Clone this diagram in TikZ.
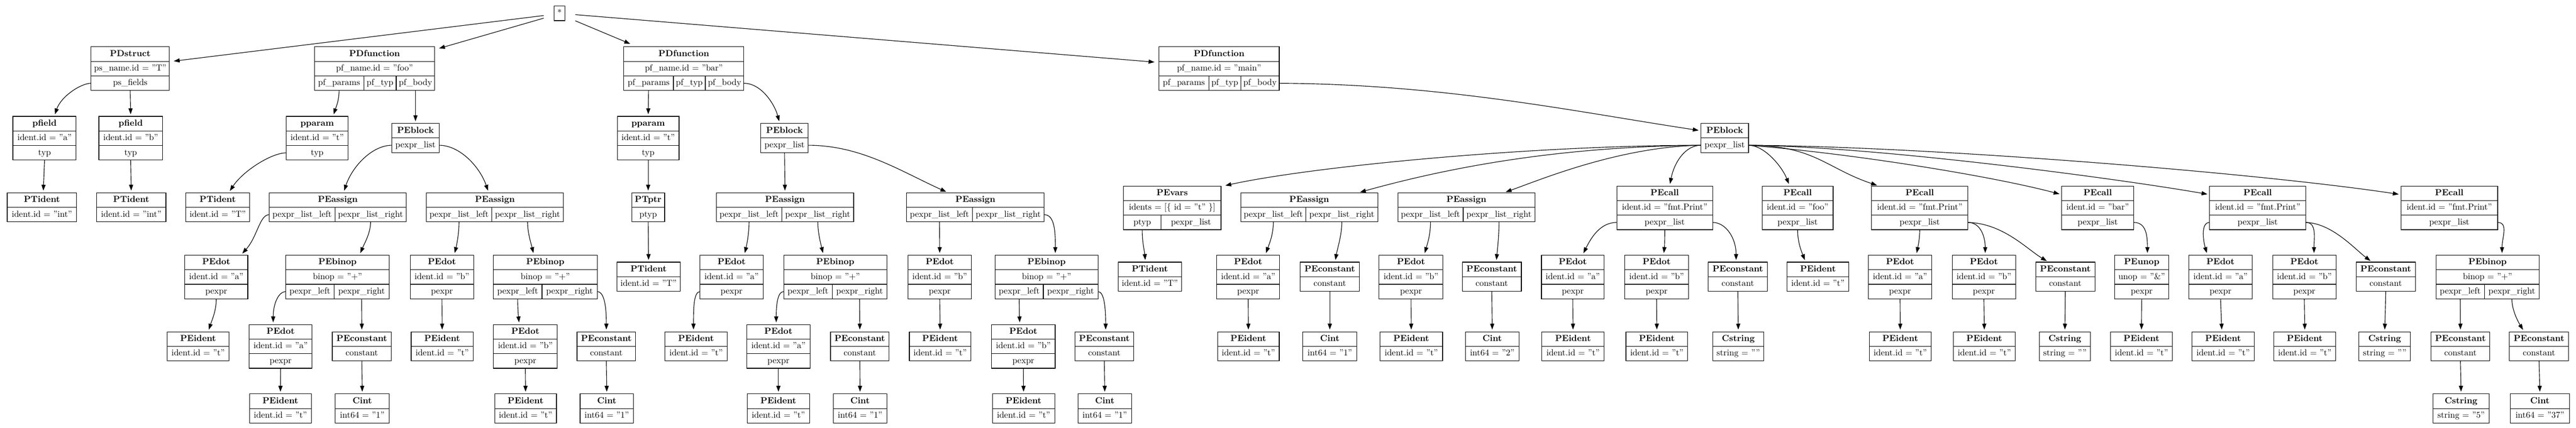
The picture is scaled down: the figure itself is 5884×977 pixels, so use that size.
\documentclass[tikz,border=0pt]{standalone}
\usetikzlibrary{arrows.meta,calc}
\tikzset{
 cell/.style={draw, line width=0.67pt, inner sep=0pt, outer sep=0pt, minimum height=16.65pt,
   text height=7pt, text depth=2pt, font=\fontsize{10}{12}\selectfont, anchor=center},
 conn/.style={line width=0.67pt, -{Triangle[length=6.7pt,width=4.7pt]}, shorten >=2.5pt},
}
% two-row record: name, x1, x2, ytop, title, row
\newcommand\RecII[6]{%
 \node[cell,minimum width={(#3-#2)*0.5pt}] (#1-t) at ({(#2+#3)/2},{#4+16.65}) {\textbf{#5}};
 \node[cell,minimum width={(#3-#2)*0.5pt}] (#1-a) at ({(#2+#3)/2},{#4+49.95}) {#6};}
% three-row record
\newcommand\RecIII[7]{%
 \RecII{#1}{#2}{#3}{#4}{#5}{#6}%
 \node[cell,minimum width={(#3-#2)*0.5pt}] (#1-b) at ({(#2+#3)/2},{#4+83.25}) {#7};}
% two-row record, second row split: name,x1,x2,xd,ytop,title,left,right
\newcommand\RecIIs[8]{%
 \node[cell,minimum width={(#3-#2)*0.5pt}] (#1-t) at ({(#2+#3)/2},{#5+16.65}) {\textbf{#6}};
 \node[cell,minimum width={(#4-#2)*0.5pt}] (#1-l) at ({(#2+#4)/2},{#5+49.95}) {#7};
 \node[cell,minimum width={(#3-#4)*0.5pt}] (#1-r) at ({(#4+#3)/2},{#5+49.95}) {#8};}
% three-row record, third row split: name,x1,x2,xd,ytop,title,row,left,right
\newcommand\RecIIIs[9]{%
 \node[cell,minimum width={(#3-#2)*0.5pt}] (#1-t) at ({(#2+#3)/2},{#5+16.65}) {\textbf{#6}};
 \node[cell,minimum width={(#3-#2)*0.5pt}] (#1-a) at ({(#2+#3)/2},{#5+49.95}) {#7};
 \node[cell,minimum width={(#4-#2)*0.5pt}] (#1-l) at ({(#2+#4)/2},{#5+83.25}) {#8};
 \node[cell,minimum width={(#3-#4)*0.5pt}] (#1-r) at ({(#4+#3)/2},{#5+83.25}) {#9};}
% PDfunction record: name,x1,x2,xd1,xd2,fname
\newcommand\RecFun[6]{%
 \node[cell,minimum width={(#3-#2)*0.5pt}] (#1-t) at ({(#2+#3)/2},123.65) {\textbf{PDfunction}};
 \node[cell,minimum width={(#3-#2)*0.5pt}] (#1-a) at ({(#2+#3)/2},156.95) {pf\_name.id = "#6"};
 \node[cell,minimum width={(#4-#2)*0.5pt}] (#1-p) at ({(#2+#4)/2},190.25) {pf\_params};
 \node[cell,minimum width={(#5-#4)*0.5pt}] (#1-y) at ({(#4+#5)/2},190.25) {pf\_typ};
 \node[cell,minimum width={(#3-#5)*0.5pt}] (#1-b) at ({(#5+#3)/2},190.25) {pf\_body};}
\newcommand\PEa{pexpr\_list\_left}
\newcommand\PEb{pexpr\_list\_right}
\newcommand\IDt{ident.id = "t"}
\begin{document}
\begin{tikzpicture}[x=0.5pt,y=-0.5pt]
\fill[white] (0,0) rectangle (5884,977);
\useasboundingbox (0,0) rectangle (5884,977);

% ---------- root
\node[cell, minimum width=12pt, outer xsep=12pt, text height=5pt, text depth=0pt] (star) at (1278,30.5) {*};

% ---------- level 1
\RecIII{S}{208}{387}{107}{PDstruct}{ps\_name.id = "T"}{ps\_fields}
\RecFun{F1}{718}{993}{831}{905}{foo}
\RecFun{F2}{1425}{1699}{1538}{1611}{bar}
\RecFun{F3}{2647}{2922}{2761}{2834}{main}

% ---------- level 2
\RecIII{Pa}{29.5}{174}{266}{pfield}{ident.id = "a"}{typ}
\RecIII{Pb}{226}{371}{266}{pfield}{ident.id = "b"}{typ}
\RecIII{PP1}{654}{795}{266}{pparam}{\IDt}{typ}
\RecII{B1}{895}{1003}{282}{PEblock}{pexpr\_list}
\RecIII{PP2}{1410}{1551}{266}{pparam}{\IDt}{typ}
\RecII{B2}{1738}{1846}{282}{PEblock}{pexpr\_list}
\RecII{B3}{3885}{3994}{282}{PEblock}{pexpr\_list}

% ---------- level 3
\RecII{Ta}{16.5}{175}{440.5}{PTident}{ident.id = "int"}
\RecII{Tb}{220.5}{379}{440.5}{PTident}{ident.id = "int"}
\RecII{T1}{424.5}{570}{440.5}{PTident}{ident.id = "T"}
\RecIIs{A1}{615}{928}{765}{440.5}{PEassign}{\PEa}{\PEb}
\RecIIs{A2}{974}{1287}{1123}{440.5}{PEassign}{\PEa}{\PEb}
\RecII{PT}{1443}{1518}{440.5}{PTptr}{ptyp}
\RecIIs{A3}{1636}{1950}{1786}{440.5}{PEassign}{\PEa}{\PEb}
\RecIIs{A4}{2071}{2385}{2221}{440.5}{PEassign}{\PEa}{\PEb}
\RecIIIs{V}{2566}{2789}{2652}{425}{PEvars}{idents = [\{ id = "t" \}]}{ptyp}{pexpr\_list}
\RecIIs{A5}{2834}{3147}{2983}{440.5}{PEassign}{\PEa}{\PEb}
\RecIIs{A6}{3193}{3506}{3342}{440.5}{PEassign}{\PEa}{\PEb}
\RecIII{C1}{3693}{3912}{425}{PEcall}{ident.id = "fmt.Print"}{pexpr\_list}
\RecIII{C2}{4025}{4187}{425}{PEcall}{ident.id = "foo"}{pexpr\_list}
\RecIII{C3}{4275}{4495}{425}{PEcall}{ident.id = "fmt.Print"}{pexpr\_list}
\RecIII{C4}{4709}{4874}{425}{PEcall}{ident.id = "bar"}{pexpr\_list}
\RecIII{C5}{5047}{5267}{425}{PEcall}{ident.id = "fmt.Print"}{pexpr\_list}
\RecIII{C6}{5484}{5705}{425}{PEcall}{ident.id = "fmt.Print"}{pexpr\_list}

% ---------- level 4
\RecIII{D1}{422}{566}{583}{PEdot}{ident.id = "a"}{pexpr}
\RecIIIs{N1}{653}{889}{763}{583}{PEbinop}{binop = "+"}{pexpr\_left}{pexpr\_right}
\RecIII{D2}{937}{1082}{583}{PEdot}{ident.id = "b"}{pexpr}
\RecIIIs{N2}{1127}{1364}{1238}{583}{PEbinop}{binop = "+"}{pexpr\_left}{pexpr\_right}
\RecII{T2}{1409}{1554}{599}{PTident}{ident.id = "T"}
\RecIII{D3}{1599}{1743}{583}{PEdot}{ident.id = "a"}{pexpr}
\RecIIIs{N3}{1790}{2026}{1901}{583}{PEbinop}{binop = "+"}{pexpr\_left}{pexpr\_right}
\RecIII{D4}{2074}{2219}{583}{PEdot}{ident.id = "b"}{pexpr}
\RecIIIs{N4}{2273}{2508}{2383}{583}{PEbinop}{binop = "+"}{pexpr\_left}{pexpr\_right}
\RecII{T3}{2554}{2699}{599}{PTident}{ident.id = "T"}
\RecIII{D5}{2779}{2923}{583}{PEdot}{ident.id = "a"}{pexpr}
\RecII{K1}{2970}{3105}{599}{PEconstant}{constant}
\RecIII{D6}{3150}{3296}{583}{PEdot}{ident.id = "b"}{pexpr}
\RecII{K2}{3340}{3475}{599}{PEconstant}{constant}
\RecIII{D7}{3521}{3664}{583}{PEdot}{ident.id = "a"}{pexpr}
\RecIII{D8}{3711}{3857}{583}{PEdot}{ident.id = "b"}{pexpr}
\RecII{K3}{3902}{4037}{599}{PEconstant}{constant}
\RecII{I1}{4082}{4223}{599}{PEident}{\IDt}
\RecIII{D9}{4268}{4412}{583}{PEdot}{ident.id = "a"}{pexpr}
\RecIII{D10}{4459}{4604}{583}{PEdot}{ident.id = "b"}{pexpr}
\RecII{K4}{4650}{4785}{599}{PEconstant}{constant}
\RecIII{U}{4830}{4954}{583}{PEunop}{unop = "\&"}{pexpr}
\RecIII{D11}{5000}{5144}{583}{PEdot}{ident.id = "a"}{pexpr}
\RecIII{D12}{5191}{5336}{583}{PEdot}{ident.id = "b"}{pexpr}
\RecII{K5}{5382}{5517}{599}{PEconstant}{constant}
\RecIIIs{N5}{5564}{5800}{5675}{583}{PEbinop}{binop = "+"}{pexpr\_left}{pexpr\_right}

% ---------- level 5
\RecII{E1}{382}{523}{758}{PEident}{\IDt}
\RecIII{D13}{569}{713}{741.5}{PEdot}{ident.id = "a"}{pexpr}
\RecII{K6}{759}{894}{758}{PEconstant}{constant}
\RecII{E2}{939}{1081}{758}{PEident}{\IDt}
\RecIII{D14}{1127}{1273}{741.5}{PEdot}{ident.id = "b"}{pexpr}
\RecII{K7}{1318}{1452}{758}{PEconstant}{constant}
\RecII{E3}{1519}{1661}{758}{PEident}{\IDt}
\RecIII{D15}{1706}{1850}{741.5}{PEdot}{ident.id = "a"}{pexpr}
\RecII{K8}{1897}{2031}{758}{PEconstant}{constant}
\RecII{E4}{2077}{2218}{758}{PEident}{\IDt}
\RecIII{D16}{2265}{2410}{741.5}{PEdot}{ident.id = "b"}{pexpr}
\RecII{K9}{2455}{2590}{758}{PEconstant}{constant}
\RecII{E5}{2781}{2922}{758}{PEident}{\IDt}
\RecII{CI1}{2976}{3099}{758}{Cint}{int64 = "1"}
\RecII{E6}{3152}{3295}{758}{PEident}{\IDt}
\RecII{CI2}{3347}{3470}{758}{Cint}{int64 = "2"}
\RecII{E7}{3522}{3664}{758}{PEident}{\IDt}
\RecII{E8}{3714}{3855}{758}{PEident}{\IDt}
\RecII{CS1}{3912}{4029}{758}{Cstring}{string = ""}
\RecII{E9}{4270}{4411}{758}{PEident}{\IDt}
\RecII{E10}{4462}{4603}{758}{PEident}{\IDt}
\RecII{CS2}{4658}{4775}{758}{Cstring}{string = ""}
\RecII{E11}{4821}{4962}{758}{PEident}{\IDt}
\RecII{E12}{5007}{5149}{758}{PEident}{\IDt}
\RecII{E13}{5194}{5335}{758}{PEident}{\IDt}
\RecII{CS3}{5388}{5506}{758}{Cstring}{string = ""}
\RecII{K10}{5553}{5687}{758}{PEconstant}{constant}
\RecII{K11}{5732}{5867}{758}{PEconstant}{constant}

% ---------- level 6
\RecII{E14}{570}{711}{900}{PEident}{\IDt}
\RecII{CI3}{766}{889}{900}{Cint}{int64 = "1"}
\RecII{E15}{1130}{1271}{900}{PEident}{\IDt}
\RecII{CI4}{1325}{1447}{900}{Cint}{int64 = "1"}
\RecII{E16}{1707}{1849}{900}{PEident}{\IDt}
\RecII{CI5}{1903}{2026}{900}{Cint}{int64 = "1"}
\RecII{E17}{2267}{2409}{900}{PEident}{\IDt}
\RecII{CI6}{2462}{2585}{900}{Cint}{int64 = "1"}
\RecII{CS4}{5557}{5686}{900}{Cstring}{string = "5"}
\RecII{CI7}{5734}{5869}{900}{Cint}{int64 = "37"}

% ================= connectors
% root
\draw[conn] ($(star.west)+(0,5)$) -- ($(S-t.south east)+(5,0)$);
\draw[conn] ($(star.west)+(0,11)$) -- ($(F1-t.north east)+(5,5)$);
\draw[conn] ($(star.east)+(0,17)$) -- ($(F2-t.north west)+(19,-5)$);
\draw[conn] ($(star.east)+(0,3)$) -- ($(F3-t.south west)+(-5,2)$);

% PDstruct
\draw[conn] (S-b.west) .. controls +(-23,0) and +(16,-46) .. ($(Pa-t.north)+(22,0)$);
\draw[conn] (S-b.south) -- (Pb-t.north);
\draw[conn] (Pa-b.south) -- ($(Ta-t.north)+(3,0)$);
\draw[conn] (Pb-b.south) -- (Tb-t.north);

% foo
\draw[conn] (F1-p.south) .. controls +(0,23) and +(7,-21) .. ($(PP1-t.north)+(36,0)$);
\draw[conn] (F1-b.south) -- (B1-t.north);
\draw[conn] (PP1-b.west) .. controls +(-34,0) and +(33,-50) .. ($(T1-t.north)+(25,0)$);
\draw[conn] (B1-a.west) .. controls +(-45,0) and +(20,-60) .. ($(A1-t.north)+(13,0)$);
\draw[conn] (B1-a.east) .. controls +(47,0) and +(-21,-60) .. ($(A2-t.north)+(-14,0)$);
\draw[conn] (A1-l.west) .. controls +(-22,0) and +(38,-42) .. ($(D1-t.north)+(56,0)$);
\draw[conn] (A1-r.south) .. controls +(0,25) and +(12,-28) .. ($(N1-t.north)+(50,0)$);
\draw[conn] (A2-l.south) .. controls +(0,25) and +(6,-25) .. ($(D2-t.north)+(28,0)$);
\draw[conn] (A2-r.south) .. controls +(0,25) and +(-6,-25) .. ($(N2-t.north)+(-26,0)$);
\draw[conn] (D1-b.south) .. controls +(0,28) and +(8,-25) .. ($(E1-t.north)+(23,0)$);
\draw[conn] (N1-l.west) .. controls +(-18,0) and +(0,-45) .. ($(D13-t.north)+(-17,0)$);
\draw[conn] (N1-r.south) -- (K6-t.north);
\draw[conn] (D13-b.south) -- (E14-t.north);
\draw[conn] (K6-a.south) -- (CI3-t.north);
\draw[conn] (D2-b.south) -- (E2-t.north);
\draw[conn] (N2-l.south) .. controls +(0,20) and +(-2,-20) .. ($(D14-t.north)+(-14,0)$);
\draw[conn] (N2-r.east) .. controls +(18,0) and +(0,-50) .. (K7-t.north);
\draw[conn] (D14-b.south) -- (E15-t.north);
\draw[conn] (K7-a.south) -- (CI4-t.north);

% bar
\draw[conn] (F2-p.south) -- (PP2-t.north);
\draw[conn] (F2-b.east) .. controls +(41,0) and +(-11,-42) .. ($(B2-t.north)+(-11,0)$);
\draw[conn] (PP2-b.south) -- (PT-t.north);
\draw[conn] (PT-a.south) -- (T2-t.north);
\draw[conn] (B2-a.south) -- (A3-t.north);
\draw[conn] (B2-a.east) .. controls +(120,0) and +(-110,-50) .. ($(A4-t.north)+(-62,0)$);
\draw[conn] (A3-l.south) .. controls +(0,25) and +(6,-25) .. ($(D3-t.north)+(29,0)$);
\draw[conn] (A3-r.south) .. controls +(0,25) and +(-6,-25) .. ($(N3-t.north)+(-27,0)$);
\draw[conn] (D3-b.west) .. controls +(-15,0) and +(0,-50) .. ($(E3-t.north)+(-6,0)$);
\draw[conn] (N3-l.west) .. controls +(-15,0) and +(0,-40) .. ($(D15-t.north)+(-5,0)$);
\draw[conn] (N3-r.south) -- (K8-t.north);
\draw[conn] (D15-b.south) -- (E16-t.north);
\draw[conn] (K8-a.south) -- (CI5-t.north);
\draw[conn] (A4-l.south) -- (D4-t.north);
\draw[conn] (A4-r.east) .. controls +(25,0) and +(0,-50) .. ($(N4-t.north)+(20,0)$);
\draw[conn] (D4-b.south) -- (E4-t.north);
\draw[conn] (N4-l.south) .. controls +(0,20) and +(-1,-20) .. ($(D16-t.north)+(-8,0)$);
\draw[conn] (N4-r.east) .. controls +(15,0) and +(0,-50) .. ($(K9-t.north)+(3,0)$);
\draw[conn] (D16-b.south) -- (E17-t.north);
\draw[conn] (K9-a.south) -- (CI6-t.north);

% main
\draw[conn] (F3-b.east) .. controls +(378,2) and +(-285,-43) .. (B3-t.west);
\draw[conn] (B3-a.west) .. controls +(-385,0) and +(206,-45) .. ($(V-t.north east)+(5,0)$);
\draw[conn] (B3-a.west) .. controls +(-335,3) and +(198,-55) .. ($(A5-t.north)+(111,0)$);
\draw[conn] (B3-a.west) .. controls +(-185,3) and +(84,-30) .. ($(A6-t.north)+(85,0)$);
\draw[conn] (B3-a.west) .. controls +(-35,0) and +(11,-55) .. ($(C1-t.north)+(11,0)$);
\draw[conn] (B3-a.east) .. controls +(36,0) and +(-18,-45) .. ($(C2-t.north)+(-18,0)$);
\draw[conn] (B3-a.east) .. controls +(150,0) and +(-120,-40) .. ($(C3-t.north)+(-93,0)$);
\draw[conn] (B3-a.east) .. controls +(250,20) and +(-150,-40) .. ($(C4-t.west)+(0,3)$);
\draw[conn] (B3-a.east) .. controls +(300,3) and +(-200,-35) .. ($(C5-t.west)+(0,3)$);
\draw[conn] (B3-a.east) .. controls +(400,2) and +(-330,-50) .. ($(C6-t.west)+(0,3)$);

\draw[conn] (V-l.south) .. controls +(0,30) and +(-3,-30) .. ($(T3-t.north)+(-10,0)$);
\draw[conn] (A5-l.south) .. controls +(0,28) and +(10,-28) .. ($(D5-t.north)+(39,0)$);
\draw[conn] (A5-r.south) .. controls +(0,30) and +(5,-30) .. ($(K1-t.north)+(12,0)$);
\draw[conn] (D5-b.south) -- (E5-t.north);
\draw[conn] (K1-a.south) -- (CI1-t.north);
\draw[conn] (A6-l.south) .. controls +(0,28) and +(8,-28) .. ($(D6-t.north)+(30,0)$);
\draw[conn] (A6-r.south) .. controls +(0,30) and +(3,-30) .. ($(K2-t.north)+(10,0)$);
\draw[conn] (D6-b.south) -- (E6-t.north);
\draw[conn] (K2-a.south) -- (CI2-t.north);

\draw[conn] (C1-b.west) .. controls +(-38,0) and +(20,-40) .. ($(D7-t.north)+(22,0)$);
\draw[conn] (C1-b.south) .. controls +(0,20) and +(2,-20) .. ($(D8-t.north)+(16,0)$);
\draw[conn] (C1-b.east) .. controls +(30,0) and +(0,-55) .. ($(K3-t.north)+(-4,0)$);
\draw[conn] (D7-b.south) -- (E7-t.north);
\draw[conn] (D8-b.south) -- (E8-t.north);
\draw[conn] (K3-a.south) -- (CS1-t.north);

\draw[conn] (C2-b.south) .. controls +(0,25) and +(-12,-30) .. ($(I1-t.north)+(-28,0)$);

\draw[conn] (C3-b.south) .. controls +(0,20) and +(4,-20) .. ($(D9-t.north)+(37,0)$);
\draw[conn] (C3-b.east) .. controls +(30,0) and +(0,-40) .. ($(D10-t.north)+(3,0)$);
\draw[conn] (C3-b.east) .. controls +(80,2) and +(-50,-30) .. ($(K4-t.north)+(-38,0)$);
\draw[conn] (D9-b.south) -- (E9-t.north);
\draw[conn] (D10-b.south) -- (E10-t.north);
\draw[conn] (K4-a.south) -- (CS2-t.north);

\draw[conn] (C4-b.east) .. controls +(28,0) and +(0,-45) .. ($(U-t.north)+(13,0)$);
\draw[conn] (U-b.south) -- (E11-t.north);

\draw[conn] (C5-b.west) .. controls +(-20,0) and +(-10,-35) .. ($(D11-t.north)+(-30,0)$);
\draw[conn] (C5-b.east) .. controls +(25,0) and +(0,-40) .. ($(D12-t.north)+(22,0)$);
\draw[conn] (C5-b.east) .. controls +(60,2) and +(-40,-30) .. ($(K5-t.north)+(-31,0)$);
\draw[conn] (D11-b.south) -- ($(E12-t.north)+(-3,0)$);
\draw[conn] (D12-b.south) -- (E13-t.north);
\draw[conn] (K5-a.south) -- (CS3-t.north);

\draw[conn] (C6-b.east) .. controls +(25,0) and +(0,-40) .. ($(N5-t.north)+(33,0)$);
\draw[conn] (N5-l.south) -- (K10-t.north);
\draw[conn] (N5-r.south) .. controls +(0,25) and +(-15,-25) .. ($(K11-t.north)+(-34,0)$);
\draw[conn] (K10-a.south) -- (CS4-t.north);
\draw[conn] (K11-a.south) -- (CI7-t.north);
\end{tikzpicture}
\end{document}
